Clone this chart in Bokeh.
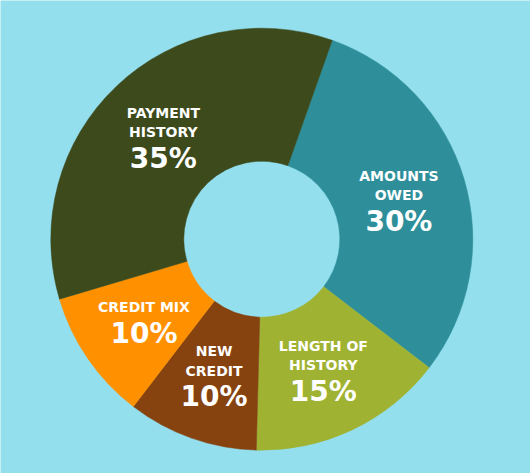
import numpy as np
from bokeh.plotting import figure
from bokeh.models import ColumnDataSource, Range1d
from bokeh.embed import file_html
from bokeh.resources import INLINE
from bokeh.core.properties import value

# ---- data (clockwise from the top boundary) ----
categories = ["AMOUNTS OWED", "LENGTH OF HISTORY", "NEW CREDIT", "CREDIT MIX", "PAYMENT HISTORY"]
label_lines = [["AMOUNTS", "OWED"], ["LENGTH OF", "HISTORY"], ["NEW", "CREDIT"], ["CREDIT MIX"], ["PAYMENT", "HISTORY"]]
shares = [30, 15, 10, 10, 35]
colors = ["#2e8f9a", "#a0b232", "#86420f", "#ff9100", "#3d4a1c"]
BG = "#93dfee"

# ---- geometry ----
W, H = 530, 473
CX, CY = 0.0, 0.0
R_OUT, R_IN = 211.0, 78.0
START_CW = 19.5  # degrees clockwise from 12 o'clock
LABEL_R = 143.0
LINE_GAP = 19.5
PCT_GAP = 26.0

total = float(sum(shares))
cum = np.concatenate([[0.0], np.cumsum(shares)]) / total * 360.0 + START_CW
start_cw = cum[:-1]
end_cw = cum[1:]
start_math = np.radians(90.0 - start_cw)
end_math = np.radians(90.0 - end_cw)

src = ColumnDataSource(dict(x=[CX] * len(shares), y=[CY] * len(shares),
                            start=start_math, end=end_math, color=colors))

p = figure(width=W, height=H, output_backend="svg", toolbar_location=None,
           x_axis_type=None, y_axis_type=None,
           x_range=Range1d(-261.3, W - 261.3), y_range=Range1d(238.7 - H, 238.7),
           min_border=0, outline_line_color=None,
           background_fill_color=BG, border_fill_color=BG)
p.grid.visible = False

p.annular_wedge(x="x", y="y", inner_radius=R_IN, outer_radius=R_OUT,
                start_angle="start", end_angle="end", direction="clock",
                fill_color="color", line_color="color", line_width=0.5, source=src)

# ---- labels ----
lx, ly, lt = [], [], []
px, py, pt = [], [], []
for i, lines in enumerate(label_lines):
    mid = np.radians((start_cw[i] + end_cw[i]) / 2.0)
    bx = CX + LABEL_R * np.sin(mid)
    by = CY + LABEL_R * np.cos(mid)
    n = len(lines)
    span = LINE_GAP * (n - 1) + PCT_GAP
    top = by + span / 2.0
    for j, s in enumerate(lines):
        lx.append(bx)
        ly.append(top - j * LINE_GAP)
        lt.append(s)
    px.append(bx)
    py.append(by - span / 2.0)
    pt.append(f"{shares[i]}%")

p.text(x=lx, y=ly, text=lt, text_color="white", text_font=value("DejaVu Sans"),
       text_font_style="bold", text_font_size="14px", text_align="center",
       text_baseline="middle")
p.text(x=px, y=py, text=pt, text_color="white", text_font=value("DejaVu Sans"),
       text_font_style="bold", text_font_size="28px", text_align="center",
       text_baseline="middle")

open("out.html", "w").write(file_html(p, INLINE))
